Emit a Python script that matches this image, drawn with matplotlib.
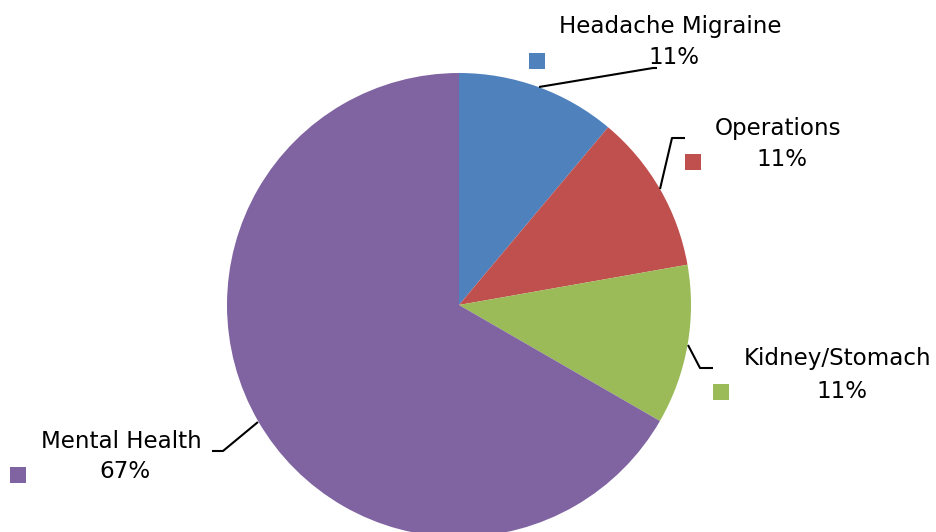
import matplotlib
matplotlib.use("Agg")
import matplotlib.pyplot as plt

# chart data
categories = ["Headache Migraine", "Operations", "Kidney/Stomach", "Mental Health"]
values = [1, 1, 1, 6]
pct_labels = ["11%", "11%", "11%", "67%"]
colors = ["#4F81BD", "#C0504D", "#9BBB59", "#8064A2"]

W, H = 936, 532
fig = plt.figure(figsize=(W / 100, H / 100), dpi=100)
ax = fig.add_axes([0, 0, 1, 1])

def py(y):
    # convert pixel row (top origin) to axes y
    return H - y

ax.pie(values, colors=colors, startangle=90, counterclock=False,
       center=(459, py(305)), radius=232, frame=True,
       wedgeprops=dict(linewidth=0))
ax.set_xlim(0, W)
ax.set_ylim(0, H)
ax.set_aspect("equal")
ax.axis("off")

# label layout (pixel coords): name pos, pct pos, swatch pos, leader line
label_pos = [(670, 27), (778, 129), (838, 358), (121, 441)]
pct_pos = [(674, 58), (782, 160), (842, 391), (125, 472)]
swatch_pos = [(537, 61), (693, 162), (721, 392), (18, 475)]
leaders = [
    [(539, 87), (653, 68), (657, 68)],
    [(660, 189), (672, 138), (685, 138)],
    [(688, 345), (700, 368), (713, 368)],
    [(258, 422), (223, 451), (212, 451)],
]

fs = 16.6
for i, name in enumerate(categories):
    x, y = label_pos[i]
    ax.text(x, py(y), name, ha="center", va="center", fontsize=fs,
            family="DejaVu Sans", color="black")
    x, y = pct_pos[i]
    ax.text(x, py(y), pct_labels[i], ha="center", va="center", fontsize=fs,
            family="DejaVu Sans", color="black")
    sx, sy = swatch_pos[i]
    ax.add_patch(plt.Rectangle((sx - 8, py(sy) - 8), 16, 16, color=colors[i], lw=0))
    xs = [p[0] for p in leaders[i]]
    ys = [py(p[1]) for p in leaders[i]]
    ax.plot(xs, ys, color="black", lw=1.5, solid_capstyle="butt")

fig.savefig("out.png", dpi=100, facecolor="white")
